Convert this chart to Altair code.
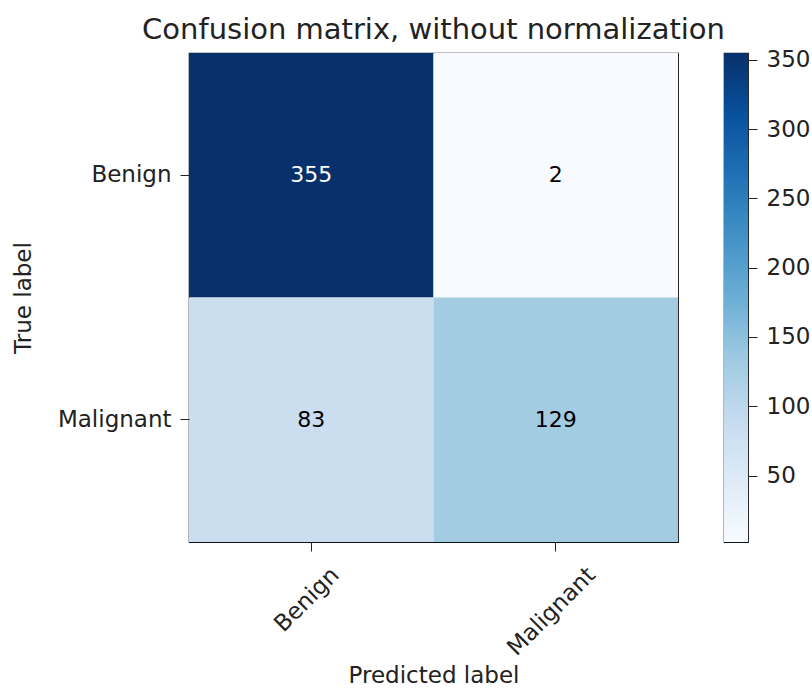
import altair as alt
import numpy as np
import pandas as pd

# Confusion matrix counts (rows: true class, columns: predicted class)
classes = ["Benign", "Malignant"]
true_labels = ["Benign", "Benign", "Malignant", "Malignant"]
pred_labels = ["Benign", "Malignant", "Benign", "Malignant"]
counts = [355, 2, 83, 129]

# Colorbar tick values
cbar_ticks = [50, 100, 150, 200, 250, 300, 350]

# Sequential "Blues" palette
blues = ["#f7fbff", "#deebf7", "#c6dbef", "#9ecae1", "#6baed6",
         "#4292c6", "#2171b5", "#08519c", "#08306b"]

FONT = "DejaVu Sans"
INK = "#222222"

vmin, vmax = min(counts), max(counts)
thresh = vmax / 2.0
stops = [float(v) for v in np.linspace(vmin, vmax, len(blues))]

df = pd.DataFrame({"true": true_labels, "pred": pred_labels, "n": counts})

color_scale = alt.Scale(domain=stops, range=blues, interpolate="rgb")

base = alt.Chart(df).encode(
    x=alt.X(
        "pred:N",
        sort=classes,
        scale=alt.Scale(paddingInner=0, paddingOuter=0),
        axis=alt.Axis(
            title="Predicted label",
            labelAngle=315,
            labelAlign="right",
            labelBaseline="middle",
            labelOffset={"condition": {"test": "datum.value == 'Malignant'", "value": 36}, "value": 24},
            labelPadding=20,
            tickSize=9,
            tickColor=INK,
            domain=False,
            labelFontSize=23,
            titleFontSize=23,
            titleFontWeight="normal",
            titlePadding=5,
        ),
    ),
    y=alt.Y(
        "true:N",
        sort=classes,
        scale=alt.Scale(paddingInner=0, paddingOuter=0),
        axis=alt.Axis(
            title="True label",
            labelAngle=0,
            tickSize=9,
            tickColor=INK,
            domain=False,
            labelPadding=9,
            labelFontSize=23,
            titleFontSize=23,
            titleFontWeight="normal",
            titlePadding=22,
        ),
    ),
)

heat = base.mark_rect().encode(
    color=alt.Color("n:Q", scale=color_scale, legend=None)
)

labels = base.mark_text(font=FONT, fontSize=22, baseline="middle").encode(
    text="n:Q",
    color=alt.condition(alt.datum.n > thresh, alt.value("white"), alt.value("black")),
)

matrix = alt.layer(heat, labels).properties(
    width=489,
    height=489,
    title=alt.TitleParams(
        "Confusion matrix, without normalization",
        fontSize=29,
        fontWeight="normal",
        font=FONT,
        color=INK,
        anchor="middle",
        offset=8,
    ),
)

# Colorbar: a single bar spanning the data range, filled with the palette
cbar_df = pd.DataFrame({"lo": [vmin], "hi": [vmax]})
gradient = alt.LinearGradient(
    gradient="linear",
    stops=[alt.GradientStop(color=c, offset=i / (len(blues) - 1)) for i, c in enumerate(blues)],
    x1=0, x2=0, y1=1, y2=0,
)
cbar = alt.Chart(cbar_df).mark_rect(color=gradient).encode(
    y=alt.Y(
        "lo:Q",
        scale=alt.Scale(domain=[vmin, vmax], nice=False, zero=False),
        axis=alt.Axis(
            orient="right",
            values=cbar_ticks,
            tickSize=9,
            tickColor=INK,
            domain=False,
            grid=False,
            labelFontSize=23,
            labelPadding=9,
            title=None,
        ),
    ),
    y2="hi:Q",
    x=alt.value(0),
    x2=alt.value(24),
).properties(width=24, height=489)

chart = alt.hconcat(matrix, cbar, spacing=46, bounds="flush").properties(
    padding={"left": 11, "top": 15, "right": 0, "bottom": 0},
).configure(
    font=FONT,
).configure_axis(
    labelColor=INK,
    titleColor=INK,
    labelFont=FONT,
    titleFont=FONT,
).configure_view(
    stroke="#111111",
    strokeWidth=1.2,
)

chart.save("out.html", embed_options={"renderer": "svg", "actions": False})
